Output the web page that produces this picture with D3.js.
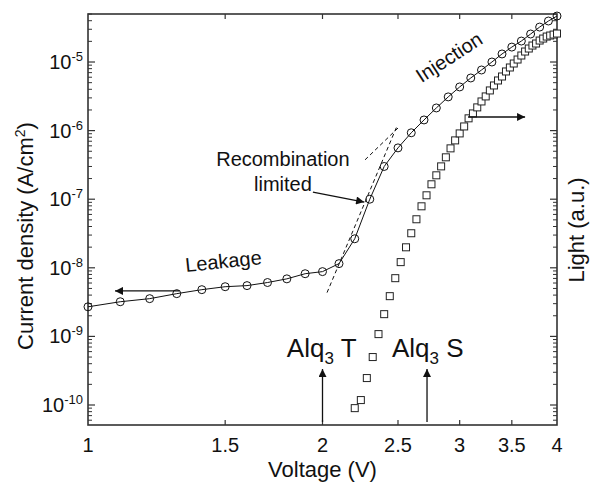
<!DOCTYPE html>
<html>
<head>
<meta charset="utf-8">
<script src="https://cdn.jsdelivr.net/npm/d3@7/dist/d3.min.js"></script>
<style>
  body { margin: 0; background: #fff; }
  text { font-family: "Liberation Sans", Arial, sans-serif; fill: #111; }
</style>
</head>
<body>
<svg id="chart" width="592" height="486"></svg>
<script>
// current density (circles), left axis
var voltage = [1.0, 1.1, 1.2, 1.3, 1.4, 1.5, 1.6, 1.7, 1.8, 1.9, 2.0, 2.1, 2.2, 2.3, 2.4, 2.5,
  2.6, 2.7, 2.8, 2.9, 3.0, 3.1, 3.2, 3.3, 3.4, 3.5, 3.6, 3.7, 3.8, 3.9, 4.0];
var currentDensity = [2.7e-9, 3.2e-9, 3.55e-9, 4.2e-9, 4.8e-9, 5.3e-9, 5.5e-9, 6.1e-9, 6.9e-9, 8.2e-9,
  8.8e-9, 1.15e-8, 2.65e-8, 1.0e-7, 3.0e-7, 5.6e-7, 9.3e-7, 1.43e-6, 2.14e-6, 3.1e-6, 4.33e-6,
  5.85e-6, 7.65e-6, 1.0e-5, 1.31e-5, 1.65e-5, 2.02e-5, 2.56e-5, 3.23e-5, 3.96e-5, 4.68e-5];

// light output (squares), right axis, arbitrary units
var lightVoltage = [2.20, 2.24, 2.28, 2.32, 2.36, 2.40, 2.44, 2.48, 2.52, 2.56, 2.60, 2.64, 2.68,
  2.72, 2.76, 2.80, 2.84, 2.88, 2.92, 2.96, 3.00, 3.04, 3.08, 3.12, 3.16, 3.20, 3.24, 3.28, 3.32,
  3.36, 3.40, 3.44, 3.48, 3.52, 3.56, 3.60, 3.64, 3.68, 3.72, 3.76, 3.80, 3.84, 3.88, 3.92, 3.96, 4.00];
var lightIntensity = [0.9, 1.18, 2.47, 5.0, 10.8, 21.1, 38.6, 70.6, 121, 199, 319, 510, 788,
  1140, 1650, 2230, 3010, 4080, 5510, 7200, 9100, 11500, 15100, 17800, 21800, 26600, 31500, 38500,
  45500, 53800, 61500, 72800, 83200, 95100, 108700, 124400, 142200, 157300, 173900, 186000,
  205600, 219800, 235000, 243200, 251300, 260000];

// dashed fits: recombination-limited and injection
var recombFitV = [2.027, 2.493];
var recombFitJ = [4.35e-9, 1.17e-6];
var injectFitV = [2.268, 2.50];
var injectFitJ = [3.75e-7, 1.09e-6];

var xTickValues = [1, 1.5, 2, 2.5, 3, 3.5, 4];
var xTickLabels = ['1', '1.5', '2', '2.5', '3', '3.5', '4'];
var yDecades = [-10, -9, -8, -7, -6, -5];

var svg = d3.select('#chart');
var plotL = 88, plotR = 557, plotT = 14, plotB = 425;

var x = d3.scaleLog().domain([1, 4]).range([plotL, plotR]);
var y = d3.scaleLog().domain([5.11e-11, 5.01e-5]).range([plotB, plotT]);
var yLight = d3.scaleLog().domain([0.511, 5.01e5]).range([plotB, plotT]);

var axisColor = '#333';

// minor/major ticks for the log axes (both sides)
var minorVals = [];
for (var k = -11; k <= -5; k++) {
  for (var m = 2; m <= 9; m++) {
    var v = m * Math.pow(10, k);
    if (v > y.domain()[0] && v < y.domain()[1]) minorVals.push(v);
  }
}
var majorVals = yDecades.map(function(d) { return Math.pow(10, d); });

var g = svg.append('g');

function hTicks(vals, x1, x2, w) {
  g.append('g').selectAll('line').data(vals).enter().append('line')
    .attr('x1', x1).attr('x2', x2)
    .attr('y1', function(d) { return y(d); }).attr('y2', function(d) { return y(d); })
    .attr('stroke', axisColor).attr('stroke-width', w);
}
hTicks(minorVals, plotL, plotL + 4, 1);
hTicks(majorVals, plotL, plotL + 7, 1.2);
hTicks(minorVals, plotR, plotR - 4, 1);
hTicks(majorVals, plotR, plotR - 7, 1.2);

// x ticks, bottom and top, pointing inward
var innerX = xTickValues.slice(1, -1);
function vTicks(y1, y2) {
  g.append('g').selectAll('line').data(innerX).enter().append('line')
    .attr('x1', function(d) { return x(d); }).attr('x2', function(d) { return x(d); })
    .attr('y1', y1).attr('y2', y2)
    .attr('stroke', axisColor).attr('stroke-width', 1.2);
}
vTicks(plotB, plotB - 5);
vTicks(plotT, plotT + 5);

// frame
g.append('rect').attr('x', plotL).attr('y', plotT)
  .attr('width', plotR - plotL).attr('height', plotB - plotT)
  .attr('fill', 'none').attr('stroke', axisColor).attr('stroke-width', 1.6);

// tick labels
g.append('g').selectAll('text').data(xTickValues).enter().append('text')
  .attr('x', function(d) { return x(d); }).attr('y', plotB + 27)
  .attr('text-anchor', 'middle').attr('font-size', 20)
  .text(function(d, i) { return xTickLabels[i]; });

var yl = g.append('g').selectAll('text').data(yDecades).enter().append('text')
  .attr('x', plotL - 5).attr('y', function(d) { return y(Math.pow(10, d)) + 7; })
  .attr('text-anchor', 'end').attr('font-size', 20);
yl.append('tspan').text('10');
yl.append('tspan').attr('dy', -8).attr('font-size', 13).text(function(d) { return String(d); });

// axis titles
svg.append('text').attr('x', (plotL + plotR) / 2).attr('y', 477)
  .attr('text-anchor', 'middle').attr('font-size', 22).text('Voltage (V)');
var yt = svg.append('text').attr('transform', 'translate(33,236) rotate(-90)')
  .attr('text-anchor', 'middle').attr('font-size', 22);
yt.append('tspan').text('Current density (A/cm');
yt.append('tspan').attr('dy', -8).attr('font-size', 14).text('2');
yt.append('tspan').attr('dy', 8).text(')');
svg.append('text').attr('transform', 'translate(584,230) rotate(-90)')
  .attr('text-anchor', 'middle').attr('font-size', 22).text('Light (a.u.)');

// arrow marker
svg.append('defs').append('marker').attr('id', 'head')
  .attr('viewBox', '0 0 10 10').attr('refX', 10).attr('refY', 5)
  .attr('markerWidth', 11).attr('markerHeight', 8).attr('markerUnits', 'userSpaceOnUse')
  .attr('orient', 'auto')
  .append('path').attr('d', 'M0,0 L10,5 L0,10 Z').attr('fill', '#111');

// dashed fits
var fitLine = d3.line().x(function(d) { return x(d[0]); }).y(function(d) { return y(d[1]); });
[[recombFitV, recombFitJ], [injectFitV, injectFitJ]].forEach(function(f) {
  svg.append('path').datum(d3.zip(f[0], f[1])).attr('d', fitLine)
    .attr('fill', 'none').attr('stroke', '#111').attr('stroke-width', 1)
    .attr('stroke-dasharray', '4,3');
});

// light squares
var sq = 7;
svg.append('g').selectAll('rect').data(d3.zip(lightVoltage, lightIntensity)).enter().append('rect')
  .attr('x', function(d) { return x(d[0]) - sq / 2; })
  .attr('y', function(d) { return yLight(d[1]) - sq / 2; })
  .attr('width', sq).attr('height', sq)
  .attr('fill', '#fff').attr('stroke', '#222').attr('stroke-width', 1);

// current density line + circles
var jData = d3.zip(voltage, currentDensity);
svg.append('path').datum(jData).attr('d', fitLine)
  .attr('fill', 'none').attr('stroke', '#111').attr('stroke-width', 1);
svg.append('g').selectAll('circle').data(jData).enter().append('circle')
  .attr('cx', function(d) { return x(d[0]); }).attr('cy', function(d) { return y(d[1]); })
  .attr('r', 4).attr('fill', 'none').attr('stroke', '#111').attr('stroke-width', 1);

// annotation arrows (data coordinates)
var arrows = [
  { from: [1.31, 4.6e-9], to: [1.083, 4.6e-9] },       // leakage -> left axis
  { from: [3.075, 1.58e-6], to: [3.64, 1.58e-6] },     // light -> right axis
  { from: [1.944, 1.27e-7], to: [2.262, 9.1e-8] },     // recombination limited
  { from: [2.0, 5.65e-11], to: [2.0, 3.35e-10] },      // Alq3 T
  { from: [2.724, 5.65e-11], to: [2.724, 3.35e-10] }   // Alq3 S
];
svg.append('g').selectAll('line').data(arrows).enter().append('line')
  .attr('x1', function(d) { return x(d.from[0]); }).attr('y1', function(d) { return y(d.from[1]); })
  .attr('x2', function(d) { return x(d.to[0]); }).attr('y2', function(d) { return y(d.to[1]); })
  .attr('stroke', '#111').attr('stroke-width', 1.3).attr('marker-end', 'url(#head)');

// text notes
function note(v, j, str, size, rot, anchor) {
  return svg.append('text')
    .attr('transform', 'translate(' + x(v) + ',' + y(j) + ') rotate(' + rot + ')')
    .attr('text-anchor', anchor).attr('font-size', size)
    .text(str);
}
note(2.94, 9.7e-6, 'Injection', 20, -33, 'middle');
note(1.779, 3.05e-7, 'Recombination', 20, 0, 'middle');
note(1.779, 1.32e-7, 'limited', 20, 0, 'middle');
note(1.495, 9.9e-9, 'Leakage', 20, -6, 'middle');

function alq(v, j, suffix) {
  var t = svg.append('text').attr('x', x(v)).attr('y', y(j)).attr('font-size', 26);
  t.append('tspan').text('Alq');
  t.append('tspan').attr('dy', 7).attr('font-size', 17).text('3');
  t.append('tspan').attr('dy', -7).text(' ' + suffix);
}
alq(1.80, 5.0e-10, 'T');
alq(2.456, 5.0e-10, 'S');
</script>
</body>
</html>
